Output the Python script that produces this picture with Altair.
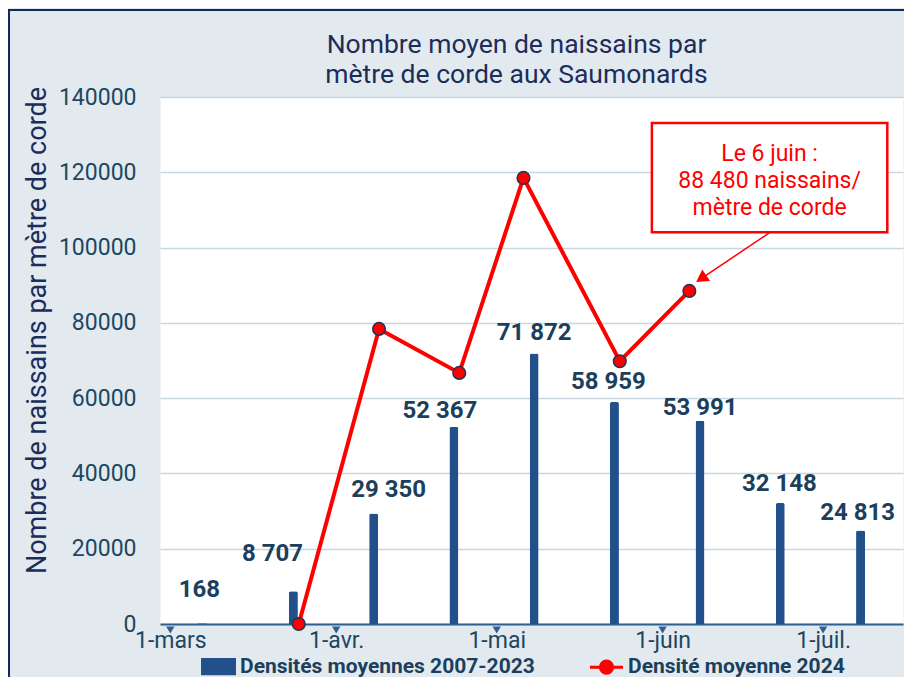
import altair as alt
import pandas as pd

# ---------------- data ----------------
bar_dates = ["2024-03-07", "2024-03-24", "2024-04-08", "2024-04-23", "2024-05-08",
             "2024-05-23", "2024-06-08", "2024-06-23", "2024-07-08"]
bar_values = [168, 8707, 29350, 52367, 71872, 58959, 53991, 32148, 24813]

line_dates = ["2024-03-25", "2024-04-09", "2024-04-24", "2024-05-06", "2024-05-24", "2024-06-06"]
line_values = [0, 78400, 66700, 118500, 69800, 88480]

month_ticks = ["2024-03-01", "2024-04-01", "2024-05-01", "2024-06-01", "2024-07-01"]
month_labels = ["1-mars", "1-avr.", "1-mai", "1-juin", "1-juil."]
y_ticks = [0, 20000, 40000, 60000, 80000, 100000, 120000, 140000]

series_names = ["Densités moyennes 2007-2023", "Densité moyenne 2024"]
title_lines = ["Nombre moyen de naissains par", "mètre de corde aux Saumonards"]
y_title = "Nombre de naissains par mètre de corde"
annotation_lines = ["Le 6 juin :", "88 480 naissains/", "mètre de corde"]

# label nudges (pixels): horizontal shift and rise above the bar top
label_shift = [-3, -21, 15, -14, 0, -6, 0, -1, -3]
label_rise = [33, 37, 24, 16, 20, 20, 13, 19, 18]

# annotation geometry (data coordinates)
box_x = ["2024-05-30", "2024-07-13"]
box_y = [133100, 104100]
note_at = ("2024-06-21", 124900)
arrow_from = ("2024-06-21T05:00", 104150)
arrow_head = ("2024-06-08T05:00", 91760)

# ---------------- frames ----------------
bars = pd.DataFrame({"date": pd.to_datetime(bar_dates), "value": bar_values})
bars["label"] = [f"{v:,}".replace(",", " ") for v in bar_values]
line = pd.DataFrame({"date": pd.to_datetime(line_dates), "value": line_values})
ticks = pd.DataFrame({"date": pd.to_datetime(month_ticks)})
legend_df = pd.DataFrame({"series": series_names})
box = pd.DataFrame({"x1": pd.to_datetime([box_x[0]]), "x2": pd.to_datetime([box_x[1]]),
                    "y1": [box_y[0]], "y2": [box_y[1]]})
note = pd.DataFrame({"date": pd.to_datetime([note_at[0]]), "value": [note_at[1]],
                     "text": ["\n".join(annotation_lines)]})
arrow = pd.DataFrame({"x1": pd.to_datetime([arrow_from[0]]), "y1": [arrow_from[1]],
                      "x2": pd.to_datetime([arrow_head[0]]), "y2": [arrow_head[1]]})

NAVY_TXT = "#1B3F5C"
BAR_C = "#22508A"
RED = "#FF0000"
FONT = "Roboto"

label_map = ", ".join(f"'{d}': '{l}'" for d, l in zip(month_ticks, month_labels))
label_expr = "{" + label_map + "}[timeFormat(datum.value, '%Y-%m-%d')]"

def dt(s):
    t = pd.Timestamp(s)
    return alt.DateTime(year=t.year, month=t.month, date=t.day, hours=t.hour)

x_scale = alt.Scale(domain=[dt("2024-02-29"), dt("2024-07-15")], nice=False)
y_scale = alt.Scale(domain=[0, 140000], nice=False)

x_axis = alt.Axis(values=[dt(d) for d in month_ticks], labelExpr=label_expr, title=None,
                  grid=False, ticks=False, tickSize=0, labelPadding=5,
                  domainColor="#2F5F90", domainWidth=2,
                  labelFont=FONT, labelFontSize=23, labelColor="#1D4760")
y_axis = alt.Axis(values=y_ticks, format="d", title=y_title, grid=True,
                  gridColor="#C9D7E1", gridWidth=1.5, domain=False, ticks=False,
                  tickSize=0, labelPadding=24, labelFont=FONT, labelFontSize=23,
                  labelColor="#1D4760", titleFont=FONT, titleFontSize=27,
                  titleFontWeight="normal", titleColor="#1C2D5A", titleX=-123,
                  titleY=233, titleAngle=270, titleAlign="center",
                  titleBaseline="middle")

X = alt.X("date:T", scale=x_scale, axis=x_axis)
Y = alt.Y("value:Q", scale=y_scale, axis=y_axis)

bar_layer = alt.Chart(bars).mark_bar(color=BAR_C, width=9, opacity=1,
                                     cornerRadiusTopLeft=2, cornerRadiusTopRight=2
                                     ).encode(x=X, y=Y)

label_layers = []
for i in range(len(bar_values)):
    label_layers.append(
        alt.Chart(bars.iloc[[i]]).mark_text(
            font=FONT, fontSize=24, fontWeight="bold", color=NAVY_TXT,
            baseline="middle", dx=label_shift[i], dy=-label_rise[i]
        ).encode(x="date:T", y="value:Q", text="label:N")
    )

tick_marks = alt.Chart(ticks).mark_point(shape="triangle-down", filled=True, size=70,
                                         color="#2F5F90", opacity=1, yOffset=6
                                         ).encode(x="date:T", y=alt.datum(0))

line_layer = alt.Chart(line).mark_line(color=RED, strokeWidth=4).encode(x="date:T", y="value:Q")
point_layer = alt.Chart(line).mark_point(filled=True, fill=RED, stroke="#1D3557",
                                         strokeWidth=1.5, size=160, opacity=1
                                         ).encode(x="date:T", y="value:Q")

box_layer = alt.Chart(box).mark_rect(fill="white", stroke=RED, strokeWidth=2.5).encode(
    x="x1:T", x2="x2:T", y="y1:Q", y2="y2:Q")
note_layer = alt.Chart(note).mark_text(font=FONT, fontSize=23, color=RED, lineBreak="\n",
                                       lineHeight=27, align="center", baseline="middle"
                                       ).encode(x="date:T", y="value:Q", text="text:N")
arrow_line = alt.Chart(arrow).mark_rule(color=RED, strokeWidth=1.5).encode(
    x="x1:T", y="y1:Q", x2="x2:T", y2="y2:Q")
arrow_tip = alt.Chart(arrow).mark_point(shape="triangle-up", filled=True, size=196,
                                        color=RED, opacity=1, angle=236
                                        ).encode(x="x2:T", y="y2:Q")

# legend (drawn by Vega-Lite from fill / stroke / shape scales)
bar_sym = "M-0.94,-0.42H0.94V0.42H-0.94Z"
line_sym = ("M-0.97,0H-0.36M0.36,0H0.97M0.36,0A0.36,0.36,0,1,1,-0.36,0"
            "A0.36,0.36,0,1,1,0.36,0Z")
legend = alt.Legend(title=None, orient="none", legendX=40, legendY=551,
                    direction="horizontal", labelFont=FONT, labelFontSize=21,
                    labelFontWeight="bold", labelColor=NAVY_TXT, labelLimit=0,
                    labelOffset=3, symbolSize=1156, symbolStrokeWidth=3,
                    columnPadding=49, padding=0)
legend_layer = alt.Chart(legend_df).mark_point(filled=True, opacity=1).encode(
    x="date:T", y="value:Q",
    fill=alt.Fill("series:N", scale=alt.Scale(domain=series_names, range=[BAR_C, RED]),
                  legend=legend),
    stroke=alt.Stroke("series:N", scale=alt.Scale(domain=series_names, range=[BAR_C, RED]),
                      legend=legend),
    shape=alt.Shape("series:N", scale=alt.Scale(domain=series_names, range=[bar_sym, line_sym]),
                    legend=legend),
)

# outer frame lines (decoration)
frame_top = alt.Chart(ticks).mark_rule(color="#0F2B5B", strokeWidth=2).encode(
    x=alt.value(-152), x2=alt.value(760), y=alt.value(-87))
frame_left = alt.Chart(ticks).mark_rule(color="#0F2B5B", strokeWidth=2).encode(
    x=alt.value(-151), y=alt.value(-87), y2=alt.value(590))

chart = alt.layer(
    frame_top, frame_left, bar_layer, *label_layers, tick_marks, line_layer, point_layer,
    arrow_line, arrow_tip, box_layer, note_layer, legend_layer
).properties(
    width=743, height=527,
    title=alt.TitleParams(text=title_lines, anchor="middle", frame="group", font=FONT,
                          fontSize=26.5, fontWeight="normal", color="#1C2D5A",
                          lineHeight=30, offset=0, dy=79, dx=-15),
    autosize=alt.AutoSizeParams(type="none"),
    padding={"left": 152, "top": 89, "right": 1, "bottom": 53},
).configure(background="#E2EAF0").configure_view(fill="white", stroke="transparent")

chart.save("out.html", embed_options={"renderer": "svg", "actions": False})
